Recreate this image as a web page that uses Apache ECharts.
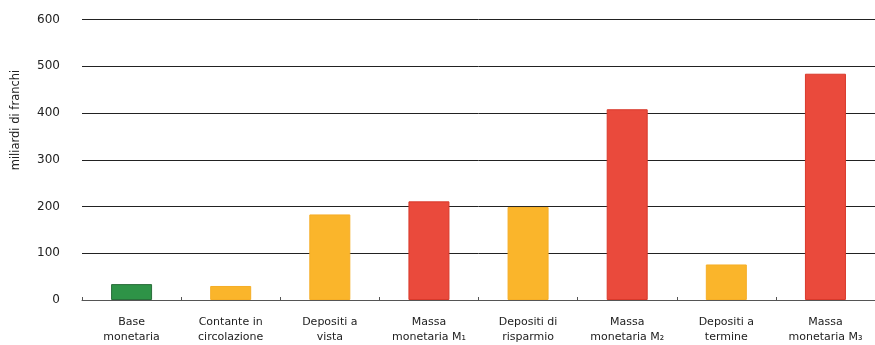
<!DOCTYPE html>
<html><head><meta charset="utf-8">
<script src="https://cdn.jsdelivr.net/npm/echarts@6/dist/echarts.min.js"></script>
<style>html,body{margin:0;padding:0;background:#fff}#c{width:875px;height:345px}</style>
</head><body><div id="c"></div>
<script>
const categories = ['Base\nmonetaria','Contante in\ncircolazione','Depositi a\nvista','Massa\nmonetaria M\u2081','Depositi di\nrisparmio','Massa\nmonetaria M\u2082','Depositi a\ntermine','Massa\nmonetaria M\u2083'];
const values = [34, 30, 183, 211, 199, 408, 76, 484];
const kinds = ['base','comp','comp','agg','comp','agg','comp','agg'];
const yTicks = [0,100,200,300,400,500,600];
const yTitle = 'miliardi di franchi';

const fills = {base:'#2e9347', comp:'#fab52b', agg:'#ea4a3c'};
const borders = {base:'#2a6e3b', comp:'#f6ae26', agg:'#d9392b'};
const FONT = '"DejaVu Sans", sans-serif';

const chart = echarts.init(document.getElementById('c'));
chart.setOption({
  animation:false,
  grid:{left:82, right:-7, top:19.5, bottom:44.5},
  graphic:[{type:'text', x:16, y:120, rotation:Math.PI/2,
    style:{text:yTitle, fill:'#222', font:'11.5px "DejaVu Sans", sans-serif', align:'center', verticalAlign:'middle'}}],
  xAxis:{type:'category', data:categories,
    axisLine:{lineStyle:{color:'#555', width:1}},
    axisTick:{show:true, length:3, inside:true, lineStyle:{color:'#555'}},
    axisLabel:{color:'#222', fontSize:11, fontFamily:FONT, lineHeight:15, margin:15, interval:0}},
  yAxis:{type:'value', min:yTicks[0], max:yTicks[yTicks.length-1], interval:100,
    axisLine:{show:false}, axisTick:{show:false},
    axisLabel:{color:'#222', fontSize:12, fontFamily:FONT, margin:22},
    splitLine:{lineStyle:{color:'#222', width:1}}},
  series:[{type:'bar', barWidth:41,
    data: values.map((v,i)=>({value:v, itemStyle:{color:fills[kinds[i]], borderColor:borders[kinds[i]], borderWidth:1}}))}]
});
</script></body></html>
